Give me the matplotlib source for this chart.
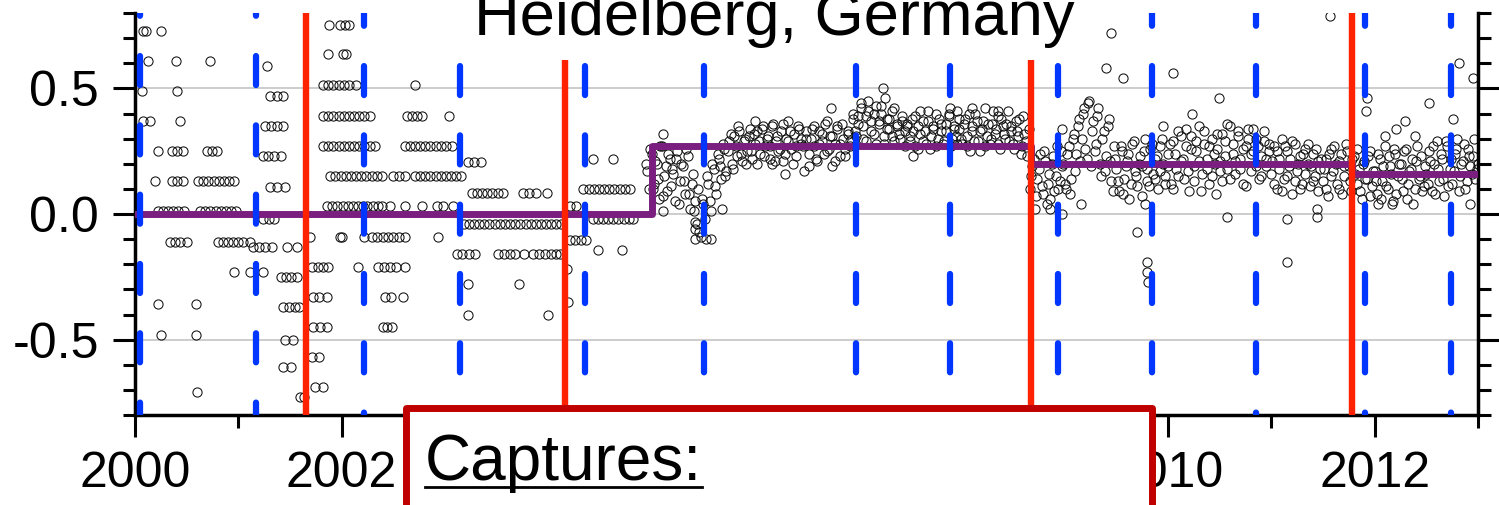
import numpy as np
import matplotlib.pyplot as plt
from matplotlib.patches import Rectangle
from matplotlib.lines import Line2D

plt.rcParams['font.family'] = ['Liberation Sans', 'DejaVu Sans']
plt.rcParams['lines.scale_dashes'] = False

# quantized daily values 2000-2005, grouped as (level, [dates])
era_a = [
    (0.73, [2000.08, 2000.11, 2000.25]),
    (0.61, [2000.13, 2000.40, 2000.73]),
    (0.49, [2000.07, 2000.41]),
    (0.37, [2000.08, 2000.15, 2000.44]),
    (0.25, [2000.22, 2000.36, 2000.41, 2000.46, 2000.70, 2000.75, 2000.79]),
    (0.13, [2000.19, 2000.36, 2000.41, 2000.46, 2000.61, 2000.66, 2000.71,
            2000.76, 2000.81, 2000.86, 2000.91, 2000.96]),
    (0.01, [2000.22, 2000.27, 2000.32, 2000.37, 2000.42, 2000.47, 2000.63,
            2000.68, 2000.73, 2000.78, 2000.83, 2000.88, 2000.93, 2000.98]),
    (-0.11, [2000.34, 2000.39, 2000.44, 2000.50, 2000.80, 2000.85, 2000.90,
             2000.95, 2001.00, 2001.05, 2001.11]),
    (-0.23, [2000.96, 2001.11, 2001.24]),
    (-0.36, [2000.22, 2000.59]),
    (-0.48, [2000.25, 2000.59]),
    (-0.71, [2000.60]),
]
era_b = [
    (0.59, [2001.28]),
    (0.47, [2001.31, 2001.37, 2001.43]),
    (0.35, [2001.26, 2001.32, 2001.37, 2001.43]),
    (0.23, [2001.24, 2001.29, 2001.35, 2001.41]),
    (0.107, [2001.31, 2001.37, 2001.45]),
    (-0.02, [2001.24, 2001.30, 2001.35]),
    (-0.13, [2001.14, 2001.20, 2001.26, 2001.33, 2001.47, 2001.57]),
    (-0.25, [2001.41, 2001.46, 2001.51, 2001.57]),
    (-0.37, [2001.43, 2001.49, 2001.55, 2001.59]),
    (-0.50, [2001.45, 2001.53]),
    (-0.61, [2001.43, 2001.51]),
    (-0.73, [2001.60, 2001.64]),
]
era_c = [
    (0.754, [2001.88, 2001.98, 2002.03, 2002.07]),
    (0.635, [2001.87, 2002.01, 2002.04]),
    (0.512, [2001.82, 2001.87, 2001.92, 2001.97, 2002.02, 2002.07, 2002.14, 2002.71]),
    (0.39, [2001.82, 2001.87, 2001.92, 2001.97, 2002.02, 2002.07, 2002.12, 2002.17,
            2002.22, 2002.27, 2002.63, 2002.68, 2002.73, 2002.78, 2003.04]),
    (0.27, [2001.82, 2001.87, 2001.92, 2001.97, 2002.02, 2002.07, 2002.12, 2002.17,
            2002.22, 2002.27, 2002.32, 2002.61, 2002.66, 2002.71, 2002.76, 2002.81,
            2002.86, 2002.91, 2002.96, 2003.01, 2003.07]),
    (0.15, [2001.89, 2001.94, 2001.99, 2002.04, 2002.09, 2002.14, 2002.19, 2002.24,
            2002.29, 2002.34, 2002.39, 2002.50, 2002.56, 2002.61, 2002.71, 2002.76,
            2002.81, 2002.86, 2002.91, 2002.96, 2003.01, 2003.06, 2003.11, 2003.16]),
    (0.03, [2001.86, 2001.91, 2001.96, 2002.01, 2002.06, 2002.11, 2002.16, 2002.21,
            2002.25, 2002.30, 2002.35, 2002.39, 2002.47, 2002.61, 2002.78, 2002.92,
            2002.98, 2003.08]),
    (-0.09, [2001.69, 2001.98, 2002.00, 2002.22, 2002.29, 2002.34, 2002.40, 2002.45,
             2002.50, 2002.56, 2002.61, 2002.93]),
    (-0.21, [2001.71, 2001.77, 2001.82, 2001.87, 2002.16, 2002.35, 2002.41, 2002.47,
             2002.53, 2002.61]),
    (-0.33, [2001.72, 2001.78, 2001.86, 2002.42, 2002.48, 2002.59]),
    (-0.45, [2001.72, 2001.79, 2001.86, 2002.40, 2002.44, 2002.49]),
    (-0.57, [2001.71, 2001.78]),
    (-0.69, [2001.74, 2001.82]),
]
era_d = [
    (0.206, [2003.22, 2003.28, 2003.35]),
    (0.083, [2003.26, 2003.31, 2003.36, 2003.41, 2003.46, 2003.51, 2003.56,
             2003.76, 2003.81, 2003.88, 2003.99]),
    (-0.04, [2003.18, 2003.23, 2003.28, 2003.33, 2003.38, 2003.43, 2003.48, 2003.53,
             2003.58, 2003.63, 2003.68, 2003.73, 2003.78, 2003.83, 2003.88, 2003.93,
             2003.98, 2004.03, 2004.08, 2004.12]),
    (-0.16, [2003.12, 2003.17, 2003.23, 2003.29, 2003.51, 2003.57, 2003.63, 2003.68,
             2003.77, 2003.85, 2003.91, 2003.97, 2004.03, 2004.08, 2004.11]),
    (-0.28, [2003.22, 2003.72]),
    (-0.40, [2003.22, 2004.00]),
]
era_e = [
    (0.22, [2004.43, 2004.63]),
    (0.10, [2004.34, 2004.39, 2004.44, 2004.49, 2004.54, 2004.59, 2004.64, 2004.69,
            2004.74, 2004.79]),
    (0.03, [2004.21, 2004.27]),
    (-0.02, [2004.43, 2004.48, 2004.53, 2004.58, 2004.63, 2004.68, 2004.73, 2004.78,
             2004.82]),
    (-0.105, [2004.21, 2004.26, 2004.32, 2004.37]),
    (-0.145, [2004.48, 2004.71]),
    (-0.22, [2004.18]),
    (-0.35, [2004.19]),
]

# continuous record from late 2004 to 2013 (evenly spaced in time), two interleaved passes
dense_start, dense_end = 2004.95, 2013.0
dense_y = [
    0.20, 0.10,
    0.24, 0.12, 0.20, 0.06, 0.27, 0.15, 0.09, 0.22, 0.18, 0.05,
    0.25, 0.13, 0.19, 0.08, 0.23, 0.02, 0.16, -0.06, 0.10, -0.09,
    0.04, -0.10, 0.12, 0.01, 0.18, 0.08, 0.22, 0.14, 0.26, 0.17,
    0.29, 0.20, 0.31, 0.23, 0.33, 0.21, 0.30, 0.25, 0.34, 0.22,
    0.28, 0.33, 0.24, 0.35, 0.27, 0.31, 0.22, 0.36, 0.29, 0.25,
    0.33, 0.21, 0.30, 0.37, 0.26, 0.32, 0.23, 0.34, 0.28, 0.17,
    0.30, 0.24, 0.34, 0.27, 0.21, 0.33, 0.29, 0.36, 0.25, 0.31,
    0.19, 0.28, 0.35, 0.23, 0.30, 0.26, 0.33, 0.29, 0.38, 0.31,
    0.36, 0.42, 0.30, 0.39, 0.45, 0.33, 0.40, 0.28, 0.37, 0.43,
    0.31, 0.38, 0.34, 0.41, 0.29, 0.36, 0.32, 0.39, 0.27, 0.35,
    0.31, 0.38, 0.27, 0.35, 0.41, 0.29, 0.33, 0.37, 0.26, 0.34,
    0.40, 0.30, 0.36, 0.28, 0.33, 0.39, 0.27, 0.35, 0.31, 0.38,
    0.30, 0.36, 0.27, 0.40, 0.33, 0.29, 0.37, 0.25, 0.34, 0.42,
    0.31, 0.28, 0.36, 0.32, 0.39, 0.26, 0.35, 0.30, 0.41, 0.33,
    0.28, 0.37, 0.31, 0.24, 0.39, 0.29, 0.34, 0.15, 0.22, 0.07,
    0.18, 0.11, 0.25, 0.04, 0.16, 0.20, 0.09, 0.27, 0.13, 0.19,
    0.12, 0.24, 0.08, 0.30, 0.17, 0.35, 0.21, 0.40, 0.26, 0.44,
    0.19, 0.37, 0.28, 0.42, 0.15, 0.33, 0.23, 0.38, 0.13, 0.27,
    0.18, 0.09, 0.25, 0.14, 0.21, 0.06, 0.28, 0.17, 0.11, 0.23,
    0.19, 0.30, 0.13, 0.26, 0.16, 0.22, 0.10, 0.27, 0.20, 0.15,
    0.24, 0.12, 0.29, 0.18, 0.33, 0.21, 0.14, 0.27, 0.09, 0.31,
    0.19, 0.25, 0.35, 0.16, 0.28, 0.22, 0.12, 0.30, 0.20, 0.26,
    0.17, 0.32, 0.23, 0.36, 0.14, 0.28, 0.21, 0.33, 0.18, 0.26,
    0.11, 0.30, 0.24, 0.34, 0.19, 0.27, 0.15, 0.29, 0.22, 0.25,
    0.16, 0.27, 0.10, 0.22, 0.30, 0.14, 0.25, 0.19, 0.08, 0.28,
    0.17, 0.23, 0.12, 0.26, 0.20, 0.11, 0.24, 0.15, 0.21, 0.18,
    0.13, 0.22, 0.07, 0.26, 0.17, 0.20, 0.10, 0.24, 0.15, 0.28,
    0.19, 0.09, 0.23, 0.12, 0.18, 0.06, 0.21, 0.14, 0.25, 0.11,
    0.17, 0.08, 0.22, 0.13, 0.27, 0.10, 0.19, 0.05, 0.24, 0.15,
    0.20, 0.09, 0.26, 0.12, 0.18, 0.04, 0.21, 0.14, 0.23, 0.11,
    0.16, 0.25, 0.09, 0.20, 0.29, 0.13, 0.22, 0.07, 0.27, 0.18,
    0.12, 0.24, 0.30, 0.15, 0.21, 0.10, 0.26, 0.19, 0.23, 0.14, 0.20,
]
dense2_start, dense2_end = 2004.96, 2012.99
dense2_y = [
    0.17, 0.26, 0.10, 0.21, 0.14, 0.27, 0.07, 0.19, 0.24, 0.11,
    0.16, 0.22, 0.04, 0.20, 0.13, 0.26, 0.08, 0.12, 0.01, -0.04,
    -0.07, 0.06, -0.02, 0.15, 0.05, 0.20, 0.11, 0.24, 0.19, 0.28,
    0.15, 0.25, 0.32, 0.18, 0.27, 0.35, 0.24, 0.29, 0.20, 0.31,
    0.25, 0.32, 0.20, 0.29, 0.34, 0.23, 0.30, 0.27, 0.35, 0.21,
    0.31, 0.26, 0.36, 0.24, 0.29, 0.33, 0.20, 0.27, 0.35, 0.30,
    0.27, 0.33, 0.19, 0.30, 0.35, 0.22, 0.28, 0.32, 0.24, 0.37,
    0.26, 0.31, 0.21, 0.34, 0.28, 0.36, 0.23, 0.32, 0.27, 0.40,
    0.33, 0.39, 0.44, 0.35, 0.29, 0.41, 0.37, 0.32, 0.43, 0.36,
    0.40, 0.28, 0.34, 0.38, 0.31, 0.42, 0.35, 0.30, 0.37, 0.33,
    0.36, 0.29, 0.33, 0.39, 0.26, 0.32, 0.37, 0.28, 0.41, 0.31,
    0.35, 0.27, 0.38, 0.33, 0.29, 0.36, 0.40, 0.30, 0.34, 0.28,
    0.34, 0.28, 0.38, 0.31, 0.25, 0.35, 0.40, 0.29, 0.33, 0.37,
    0.27, 0.36, 0.30, 0.41, 0.34, 0.28, 0.38, 0.32, 0.36, 0.29,
    0.35, 0.26, 0.33, 0.38, 0.27, 0.32, 0.23, 0.10, 0.19, 0.02,
    0.14, 0.24, 0.08, 0.21, 0.12, 0.06, 0.23, 0.15, 0.10, 0.25,
    0.20, 0.10, 0.27, 0.14, 0.32, 0.24, 0.38, 0.30, 0.42, 0.22,
    0.45, 0.33, 0.25, 0.39, 0.20, 0.30, 0.17, 0.35, 0.21, 0.09,
    0.22, 0.13, 0.27, 0.08, 0.19, 0.24, 0.12, 0.29, 0.15, 0.20,
    0.07, 0.25, 0.18, 0.11, 0.28, 0.14, 0.23, 0.17, 0.30, 0.12,
    0.19, 0.28, 0.10, 0.24, 0.15, 0.31, 0.22, 0.34, 0.17, 0.26,
    0.13, 0.29, 0.21, 0.09, 0.33, 0.18, 0.27, 0.15, 0.24, 0.32,
    0.21, 0.13, 0.29, 0.18, 0.35, 0.24, 0.16, 0.31, 0.22, 0.12,
    0.27, 0.34, 0.17, 0.25, 0.30, 0.14, 0.23, 0.33, 0.19, 0.28,
    0.21, 0.12, 0.25, 0.18, 0.09, 0.27, 0.15, 0.22, 0.29, 0.13,
    0.20, 0.10, 0.24, 0.16, 0.28, 0.19, 0.13, 0.26, 0.09, 0.22,
    0.18, 0.10, 0.24, 0.15, 0.27, 0.12, 0.21, 0.08, 0.19, 0.25,
    0.13, 0.22, 0.16, 0.26, 0.09, 0.20, 0.14, 0.23, 0.07, 0.17,
    0.13, 0.24, 0.06, 0.19, 0.11, 0.23, 0.16, 0.26, 0.08, 0.20,
    0.14, 0.25, 0.06, 0.17, 0.22, 0.10, 0.27, 0.15, 0.09, 0.19,
    0.12, 0.21, 0.27, 0.08, 0.18, 0.24, 0.14, 0.29, 0.11, 0.22,
    0.17, 0.26, 0.09, 0.20, 0.28, 0.13, 0.23, 0.16, 0.30, 0.18,
]

# scattered points off the main band
out_x = [2005.11, 2005.11, 2005.42, 2005.42, 2005.42, 2005.58, 2005.68, 2006.00,
         2006.17, 2006.29, 2006.74, 2007.24, 2007.26, 2007.53, 2007.89, 2007.96,
         2008.10, 2008.35, 2008.86, 2008.97, 2008.97, 2009.16, 2009.40, 2009.45,
         2009.56, 2009.70, 2009.78, 2009.80, 2009.80, 2009.81, 2009.95, 2010.05,
         2010.23, 2010.46, 2010.49, 2010.57, 2011.15, 2011.15, 2011.44, 2011.44,
         2011.57, 2011.92, 2011.93, 2012.03, 2012.10, 2012.17, 2012.21, 2012.29,
         2012.39, 2012.53, 2012.76, 2012.82, 2012.92, 2012.95]
out_y = [0.32, 0.01, 0.05, -0.03, -0.10, -0.10, 0.02, 0.37,
         0.20, 0.16, 0.42, 0.50, 0.46, 0.23, 0.42, 0.41,
         0.42, 0.41, 0.02, 0.34, 0.00, 0.04, 0.58, 0.72,
         0.54, -0.07, 0.04, -0.19, -0.23, -0.27, 0.35, 0.56,
         0.40, 0.08, 0.46, -0.01, -0.02, -0.19, 0.02, -0.01,
         0.79, 0.41, 0.46, 0.04, 0.31, 0.04, 0.34, 0.37,
         0.31, 0.44, 0.38, 0.60, 0.04, 0.54]

# fitted offset levels (step function)
step_x = [2000.0, 2005.0, 2008.67, 2011.78, 2013.0]
step_y = [0.0, 0.27, 0.20, 0.16, 0.16]

red_x = [2001.66, 2004.16, 2008.67, 2011.78]
blue_x = [2000.05, 2001.17, 2002.22, 2003.15, 2004.36, 2005.51, 2006.98,
          2007.89, 2008.93, 2009.84, 2010.85, 2011.91, 2012.74]

xticks = [2000, 2002, 2004, 2006, 2008, 2010, 2012]
yticks = [-0.5, 0.0, 0.5]
ytick_labels = ['-0.5', '0.0', '0.5']

W, H = 1499, 505
fig = plt.figure(figsize=(W / 100, H / 100), dpi=100)
ax = fig.add_axes([135 / W, 1 - 415 / H, (1478 - 135) / W, (415 - 13) / H])

pts_x, pts_y = [], []
for runs in (era_a, era_b, era_c, era_d, era_e):
    for lev, xs in runs:
        pts_x += xs
        pts_y += [lev] * len(xs)
dense_x = np.linspace(dense_start, dense_end, len(dense_y))
dense2_x = np.linspace(dense2_start, dense2_end, len(dense2_y))

mk = dict(ls='none', marker='o', ms=6.6, mfc='none', mec='#111111', mew=0.75, zorder=2)
ax.plot(pts_x, pts_y, **mk)
ax.plot(dense_x, dense_y, **mk)
ax.plot(dense2_x, dense2_y, **mk)
ax.plot(out_x, out_y, **mk)

ax.step(step_x, step_y, where='post', color='#7a1f7f', lw=5, zorder=3,
        solid_joinstyle='round')

for rx in red_x:
    ax.axvline(rx, color='#ff2200', lw=4.6, zorder=4)

for i, bx in enumerate(blue_x):
    off = 18.9 if i < 2 else 11.7
    ax.plot([bx, bx], [0.8, -0.8], color='#0036ff', lw=4.5,
            linestyle=(off, (20.9, 29.0)), dash_capstyle='round', zorder=4)

ax.set_xlim(2000, 2013)
ax.set_ylim(-0.8, 0.8)
ax.set_xticks(xticks)
ax.set_xticks(np.arange(2001, 2014, 2), minor=True)
ax.set_yticks(yticks)
ax.set_yticklabels(ytick_labels)
ax.set_yticks(np.arange(-0.8, 0.81, 0.1), minor=True)
ax.tick_params(which='major', direction='out', length=16, width=2.2,
               labelsize=36, pad=10, right=True, labelright=False)
ax.tick_params(which='minor', direction='out', length=9, width=2.2, right=True)
ax.spines['top'].set_visible(False)
for s in ('left', 'right', 'bottom'):
    ax.spines[s].set_linewidth(2.5)
ax.set_axisbelow(True)
ax.yaxis.grid(True, which='major', color='#c8c8c8', lw=1.3)

# title with white background
fig.add_artist(Rectangle((455 / W, 1 - 60 / H), 637 / W, 60 / H,
                         transform=fig.transFigure, facecolor='white',
                         edgecolor='none', zorder=3))
fig.text(774 / W, 1 - 35 / H, 'Heidelberg, Germany', ha='center',
         va='baseline', fontsize=45.5, zorder=4)

# "Captures:" box over the bottom
fig.add_artist(Rectangle((406 / W, -0.1), (1152 - 406) / W, 0.1 + 1 - 407.5 / H,
                         transform=fig.transFigure, facecolor='white',
                         edgecolor='#c00000', lw=5, joinstyle='round', zorder=5))
fig.text(425 / W, 1 - 480 / H, 'Captures:', ha='left', va='baseline',
         fontsize=46, zorder=6)
fig.add_artist(Line2D([425 / W, 702 / W], [1 - 487 / H, 1 - 487 / H],
                      transform=fig.transFigure, color='black', lw=2, zorder=6))

fig.savefig('out.png', dpi=100)
